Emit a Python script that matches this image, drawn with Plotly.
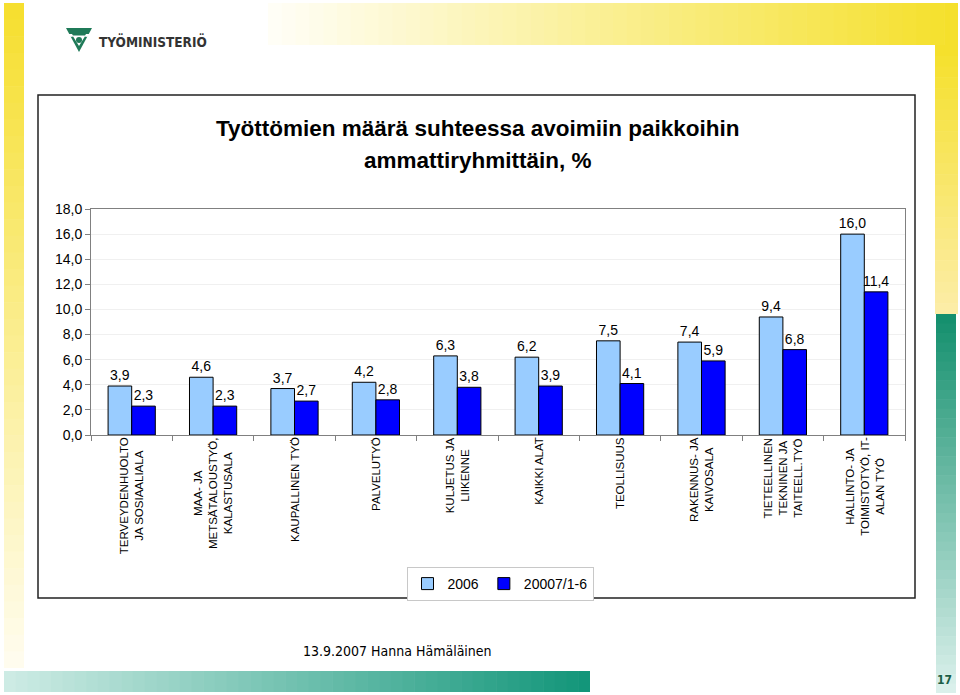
import plotly.graph_objects as go

# ---------------- data ----------------
categories = [
    "TERVEYDENHUOLTO JA SOSIAALIALA",
    "MAA- JA METSÄTALOUSTYÖ, KALASTUSALA",
    "KAUPALLINEN TYÖ",
    "PALVELUTYÖ",
    "KULJETUS JA LIIKENNE",
    "KAIKKI ALAT",
    "TEOLLISUUS",
    "RAKENNUS- JA KAIVOSALA",
    "TIETEELLINEN TEKNINEN JA TAITEELL.TYÖ",
    "HALLINTO- JA TOIMISTOTYÖ, IT-ALAN TYÖ",
]
category_labels = [
    "TERVEYDENHUOLTO<br>JA SOSIAALIALA",
    "MAA- JA<br>METSÄTALOUSTYÖ,<br>KALASTUSALA",
    "KAUPALLINEN TYÖ",
    "PALVELUTYÖ",
    "KULJETUS JA<br>LIIKENNE",
    "KAIKKI ALAT",
    "TEOLLISUUS",
    "RAKENNUS- JA<br>KAIVOSALA",
    "TIETEELLINEN<br>TEKNINEN JA<br>TAITEELL.TYÖ",
    "HALLINTO- JA<br>TOIMISTOTYÖ, IT-<br>ALAN TYÖ",
]
values_2006 = [3.9, 4.6, 3.7, 4.2, 6.3, 6.2, 7.5, 7.4, 9.4, 16.0]
values_2007 = [2.3, 2.3, 2.7, 2.8, 3.8, 3.9, 4.1, 5.9, 6.8, 11.4]
series_names = ["2006", "20007/1-6"]
y_ticks = [0, 2, 4, 6, 8, 10, 12, 14, 16, 18]
title_lines = ["Työttömien määrä suhteessa avoimiin paikkoihin", "ammattiryhmittäin, %"]
footer_text = "13.9.2007 Hanna Hämäläinen"
page_number = "17"
logo_text = "TYÖMINISTERIÖ"

# ---------------- layout geometry ----------------
W, H = 960, 695
ML, MR, MT, MB = 91, 55, 209, 260
PW = W - ML - MR
PH = H - MT - MB
BASE = H - MB


def px(x):
    return (x - ML) / PW


def py(y):
    return (BASE - y) / PH


def hex2rgb(h):
    h = h.lstrip("#")
    return tuple(int(h[i:i + 2], 16) for i in (0, 2, 4))


def mix(c0, c1, t):
    a, b = hex2rgb(c0), hex2rgb(c1)
    return "rgb(%d,%d,%d)" % tuple(round(a[i] + (b[i] - a[i]) * t) for i in range(3))


def grad_rect(x0, y0, x1, y1, c0, c1, n, horizontal):
    out = []
    for i in range(n):
        t = i / (n - 1)
        if horizontal:
            a = x0 + (x1 - x0) * i / n
            b = x0 + (x1 - x0) * (i + 1) / n + 0.6
            out.append(dict(type="rect", xref="paper", yref="paper", layer="below",
                            x0=px(a), x1=px(min(b, x1)), y0=py(y0), y1=py(y1),
                            fillcolor=mix(c0, c1, t), line=dict(width=0)))
        else:
            a = y0 + (y1 - y0) * i / n
            b = y0 + (y1 - y0) * (i + 1) / n + 0.6
            out.append(dict(type="rect", xref="paper", yref="paper", layer="below",
                            x0=px(x0), x1=px(x1), y0=py(a), y1=py(min(b, y1)),
                            fillcolor=mix(c0, c1, t), line=dict(width=0)))
    return out


def poly(points, color):
    d = "M " + " L ".join("%f,%f" % (px(x), py(y)) for x, y in points) + " Z"
    return dict(type="path", xref="paper", yref="paper", path=d,
                fillcolor=color, line=dict(width=0))


FONT = "Arial, Liberation Sans, sans-serif"
NARROW = "Liberation Sans Narrow, Arial Narrow, DejaVu Sans Condensed, Arial, sans-serif"

fig = go.Figure()
fig.add_trace(go.Bar(
    x=categories, y=values_2006, name=series_names[0],
    marker=dict(color="#99CCFF", line=dict(color="#000000", width=1)),
    text=values_2006, texttemplate="%{y:.1f}", textposition="outside",
    constraintext="none", cliponaxis=False,
    textfont=dict(size=14, color="#000000", family=FONT),
))
fig.add_trace(go.Bar(
    x=categories, y=values_2007, name=series_names[1],
    marker=dict(color="#0000FF", line=dict(color="#000000", width=1)),
    text=values_2007, texttemplate="%{y:.1f}", textposition="outside",
    constraintext="none", cliponaxis=False,
    textfont=dict(size=14, color="#000000", family=FONT),
))

shapes = []
# slide decorations
shapes += grad_rect(4, 3, 24, 668, "#F6DF30", "#FFFCEE", 40, False)       # left yellow band
shapes += grad_rect(268, 3, 958, 45, "#FFFEF6", "#F5E02C", 50, True)       # top yellow bar
shapes += grad_rect(935, 45, 958, 314, "#F5E02C", "#FCEDA6", 25, False)    # right yellow band
shapes += grad_rect(936, 314, 956, 693, "#15906E", "#DAF0EB", 40, False)   # right green band
shapes += grad_rect(4, 671, 590, 692, "#CDEBE4", "#13967A", 50, True)      # bottom green bar

# logo icon
shapes.append(poly([(66, 28), (92, 28), (79, 52)], "#1F7A58"))
shapes.append(poly([(72.5, 35.5), (85.5, 35.5), (79, 46)], "#FFFFFF"))
shapes.append(poly([(68.5, 34), (72, 34), (73.5, 36.5), (70.5, 37)], "#FFFFFF"))
shapes.append(poly([(86, 34), (89.5, 34), (87.5, 37), (84.5, 36.5)], "#FFFFFF"))
shapes.append(dict(type="circle", xref="paper", yref="paper",
                   x0=px(76), x1=px(82), y0=py(37), y1=py(43),
                   fillcolor="#1F7A58", line=dict(width=0)))

# chart frame
shapes.append(dict(type="rect", xref="paper", yref="paper",
                   x0=px(38), x1=px(915), y0=py(95), y1=py(598),
                   line=dict(color="#222222", width=1.5), fillcolor="rgba(0,0,0,0)"))

annotations = []
annotations.append(dict(text="<b>%s</b>" % title_lines[0], xref="paper", yref="paper",
                        x=px(478), y=py(128), showarrow=False, xanchor="center", yanchor="middle",
                        font=dict(size=22.5, color="#000000", family=FONT)))
annotations.append(dict(text="<b>%s</b>" % title_lines[1], xref="paper", yref="paper",
                        x=px(478), y=py(160), showarrow=False, xanchor="center", yanchor="middle",
                        font=dict(size=22.5, color="#000000", family=FONT)))
for cat, lab in zip(categories, category_labels):
    annotations.append(dict(text=lab, xref="x", yref="paper", x=cat, y=py(436),
                            showarrow=False, textangle=-90, align="center",
                            xanchor="center", yanchor="top", borderpad=0,
                            font=dict(size=11.5, color="#000000", family=FONT)))
annotations.append(dict(text="<b>%s</b>" % logo_text, xref="paper", yref="paper",
                        x=px(97), y=py(41), showarrow=False, xanchor="left", yanchor="middle",
                        font=dict(size=13.5, color="#333333", family=NARROW)))
annotations.append(dict(text=footer_text, xref="paper", yref="paper",
                        x=px(397), y=py(651), showarrow=False, xanchor="center", yanchor="middle",
                        font=dict(size=14, color="#000000", family=NARROW)))
annotations.append(dict(text="<b>%s</b>" % page_number, xref="paper", yref="paper",
                        x=px(944), y=py(680), showarrow=False, xanchor="center", yanchor="middle",
                        font=dict(size=12, color="#1B5E46", family=NARROW)))

fig.update_layout(
    width=W, height=H,
    margin=dict(l=ML, r=MR, t=MT, b=MB, pad=0),
    paper_bgcolor="#FFFFFF", plot_bgcolor="#FFFFFF",
    separators=", ",
    barmode="group", bargap=0.42, bargroupgap=0,
    font=dict(family=FONT, size=14, color="#000000"),
    showlegend=True,
    legend=dict(orientation="h", x=px(500), xanchor="center", y=py(567), yanchor="top",
                bgcolor="#FFFFFF", bordercolor="#C8C8C8", borderwidth=1,
                font=dict(size=14, family=FONT), itemwidth=30, traceorder="normal",
                tracegroupgap=0),
    shapes=shapes,
    annotations=annotations,
)
fig.update_xaxes(type="category", showticklabels=False, ticks="outside", tickson="boundaries",
                 ticklen=5, tickcolor="#808080", showline=True, linecolor="#808080",
                 linewidth=1, mirror=True, showgrid=False, zeroline=False)
fig.update_yaxes(range=[0, 18], tickvals=y_ticks, tickformat=".1f", ticks="outside",
                 ticklen=5, tickcolor="#808080", showline=True, linecolor="#808080",
                 linewidth=1, mirror=True, showgrid=True, gridcolor="#F0F0F0",
                 zeroline=False, tickfont=dict(size=14, family=FONT))

fig.write_html("out.html", config={"displayModeBar": False},
               post_script="document.body.style.margin='0';document.body.style.overflow='hidden';")
